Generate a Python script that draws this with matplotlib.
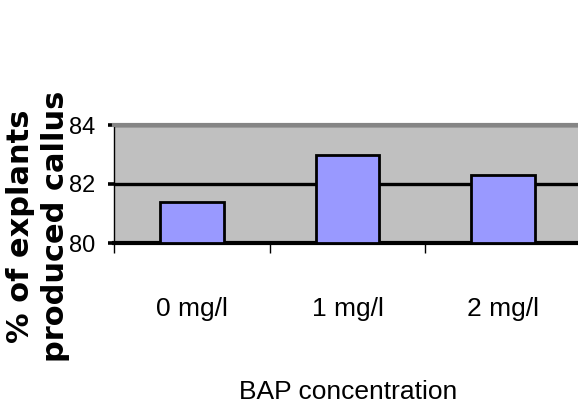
import matplotlib
matplotlib.use("Agg")
import matplotlib.pyplot as plt
from matplotlib import font_manager

# BAP dose vs callus induction
doses = ["0 mg/l", "1 mg/l", "2 mg/l"]
callus_pct = [81.4, 83.0, 82.3]
y_ticks = [80, 82, 84]

names = {f.name for f in font_manager.fontManager.ttflist}
narrow = "Liberation Sans Narrow" if "Liberation Sans Narrow" in names else "Liberation Sans"

fig = plt.figure(figsize=(5.78, 4.12), dpi=100)
ax = fig.add_axes([114 / 578, 169 / 412, 467 / 578, 118 / 412])
ax.set_facecolor("#c0c0c0")

x = range(len(doses))
ax.bar(x, [v - y_ticks[0] for v in callus_pct], bottom=y_ticks[0], width=0.41,
       color="#9999ff", edgecolor="black", linewidth=2.0, zorder=3)

ax.set_xlim(-0.5, len(doses) - 0.5)
ax.set_ylim(y_ticks[0], y_ticks[-1])
ax.set_yticks(y_ticks)
ax.set_yticklabels([str(t) for t in y_ticks], family=narrow, fontsize=17)

# category labels sit between the boundary ticks
ax.set_xticks([i - 0.5 for i in range(len(doses) + 1)])
ax.set_xticklabels([])
ax.set_xticks(list(x), minor=True)
ax.set_xticklabels(doses, minor=True, family=narrow, fontsize=19)
ax.tick_params(axis="x", which="major", direction="out", length=7.5, width=1.0, color="black")
ax.tick_params(axis="x", which="minor", length=0, pad=39)
ax.tick_params(axis="y", direction="out", length=4.5, width=2.6, pad=9, color="black")

ax.grid(axis="y", color="black", linewidth=2.4)
ax.set_axisbelow(True)

ax.spines["top"].set_color("#858585")
ax.spines["top"].set_linewidth(3.0)
ax.spines["right"].set_visible(False)
ax.spines["bottom"].set_linewidth(3.0)
ax.spines["left"].set_linewidth(1.0)
ax.spines["left"].set_bounds(y_ticks[0], y_ticks[-1])

fig.text(348 / 578, 20 / 412, "BAP concentration", family=narrow, fontsize=19,
         ha="center", va="center")
# two-line y title, each line placed on its own
for xpos, line in [(21, "% of explants"), (55, "produced callus")]:
    fig.text(xpos / 578, 186 / 412, line, family="DejaVu Sans", fontweight="bold",
             fontsize=22, rotation=90, ha="center", va="center")

fig.savefig("out.png", dpi=100)
